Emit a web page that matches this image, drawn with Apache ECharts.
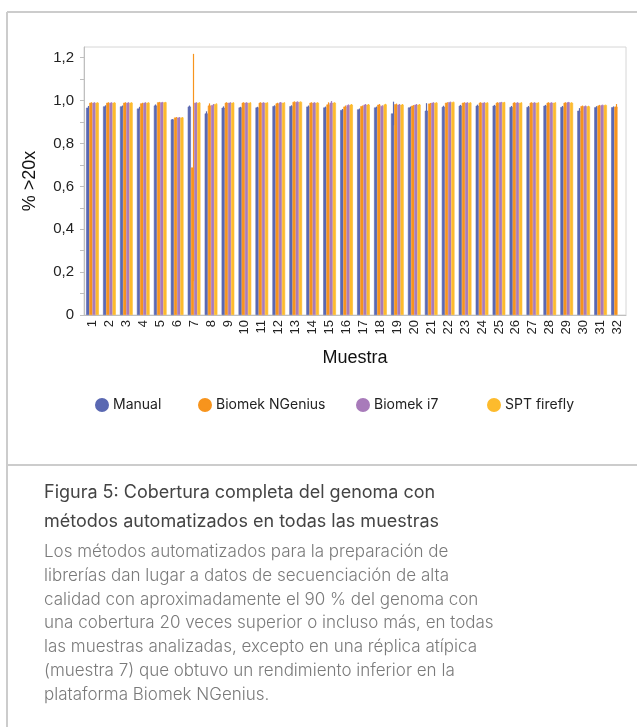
<!doctype html>
<html lang="es">
  <head>
    <meta charset="UTF-8" />
    <title>Cobertura del genoma</title>
    <script src="https://fastly.jsdelivr.net/npm/echarts@6/dist/echarts.min.js"></script>
    <style>
      * { margin: 0; padding: 0; }
      html, body, #chart { width: 637px; height: 727px; overflow: hidden; background: #fff; }
    </style>
  </head>
  <body>
    <div id="chart"></div>
    <script>
      // muestras 1..32
      const samples = Array.from({ length: 32 }, (_, i) => String(i + 1));
      const seriesNames = ['Manual', 'Biomek NGenius', 'Biomek i7', 'SPT firefly'];
      const colors = ['#5a68b2', '#f7941d', '#a87bba', '#fdbb2d'];

      const manual = [0.967, 0.973, 0.973, 0.963, 0.977, 0.912, 0.972, 0.940, 0.967, 0.968,
        0.968, 0.974, 0.974, 0.972, 0.968, 0.956, 0.959, 0.968, 0.940, 0.968,
        0.953, 0.971, 0.976, 0.976, 0.976, 0.970, 0.970, 0.976, 0.970, 0.953, 0.969, 0.969];
      const ngenius = [0.99, 0.99, 0.99, 0.987, 0.992, 0.921, 0.688, 0.977, 0.99, 0.99,
        0.99, 0.987, 0.994, 0.99, 0.982, 0.972, 0.974, 0.981, 0.983, 0.976,
        0.986, 0.99, 0.99, 0.99, 0.99, 0.99, 0.99, 0.99, 0.99, 0.974, 0.977, 0.972];
      const i7 = [0.99, 0.99, 0.99, 0.99, 0.992, 0.921, 0.99, 0.979, 0.99, 0.99,
        0.99, 0.991, 0.994, 0.99, 0.99, 0.979, 0.981, 0.975, 0.981, 0.981,
        0.99, 0.993, 0.99, 0.99, 0.992, 0.99, 0.99, 0.99, 0.992, 0.974, 0.979, null];
      const firefly = [0.99, 0.99, 0.99, 0.99, 0.992, 0.921, 0.99, 0.984, 0.99, 0.99,
        0.99, 0.99, 0.994, 0.99, 0.99, 0.981, 0.981, 0.982, 0.981, 0.981,
        0.99, 0.993, 0.99, 0.99, 0.992, 0.99, 0.99, 0.99, 0.99, 0.973, 0.979, null];

      // desviaciones (barras de error)
      const manualErr = [0.008, 0.005, 0.004, 0.008, 0.005, 0.002, 0.005, 0.01, 0.006, 0.003,
        0.003, 0.004, 0.004, 0.005, 0.004, 0.005, 0.004, 0.004, 0.055, 0.004,
        0.035, 0.005, 0.004, 0.005, 0.004, 0.005, 0.005, 0.004, 0.005, 0.012, 0.005, 0.004];
      const ngeniusErr = [0.002, 0.002, 0.002, 0.003, 0.002, 0.002, 0.53, 0.01, 0.002, 0.002,
        0.002, 0.003, 0.002, 0.002, 0.01, 0.005, 0.003, 0.003, 0.003, 0.003,
        0.003, 0.002, 0.002, 0.002, 0.002, 0.002, 0.002, 0.002, 0.002, 0.003, 0.003, 0.012];
      const i7Err = [0.002, 0.002, 0.002, 0.002, 0.002, 0.002, 0.002, 0.005, 0.002, 0.002,
        0.002, 0.002, 0.002, 0.002, 0.008, 0.003, 0.003, 0.003, 0.003, 0.003,
        0.002, 0.002, 0.002, 0.002, 0.002, 0.002, 0.002, 0.002, 0.002, 0.003, 0.002, null];
      const fireflyErr = [0.002, 0.002, 0.002, 0.002, 0.002, 0.002, 0.002, 0.003, 0.002, 0.002,
        0.002, 0.002, 0.002, 0.002, 0.002, 0.003, 0.003, 0.003, 0.003, 0.003,
        0.002, 0.002, 0.002, 0.002, 0.002, 0.002, 0.002, 0.002, 0.002, 0.003, 0.002, null];

      const yTicks = [0, 0.2, 0.4, 0.6, 0.8, 1.0, 1.2];

      const heading = 'Figura 5: Cobertura completa del genoma con\nmétodos automatizados en todas las muestras';
      const body = [
        'Los métodos automatizados para la preparación de',
        'librerías dan lugar a datos de secuenciación de alta',
        'calidad con aproximadamente el 90 % del genoma con',
        'una cobertura 20 veces superior o incluso más, en todas',
        'las muestras analizadas, excepto en una réplica atípica',
        '(muestra 7) que obtuvo un rendimiento inferior en la',
        'plataforma Biomek NGenius.'
      ].join('\n');

      const values = [manual, ngenius, i7, firefly];
      const errors = [manualErr, ngeniusErr, i7Err, fireflyErr];
      const catGap = 0.25;

      const barSeries = seriesNames.map((name, k) => ({
        name: name,
        type: 'bar',
        data: values[k],
        itemStyle: { color: colors[k], borderColor: colors[k], borderWidth: 0.6 },
        barGap: 0,
        barCategoryGap: catGap * 100 + '%',
        animation: false
      }));

      const errSeries = seriesNames.map((name, k) => ({
        type: 'custom',
        name: name + ' err',
        data: values[k].map((v, i) => v == null ? [i, null, null] : [i, v - errors[k][i], v + errors[k][i]]),
        encode: { x: 0, y: [1, 2] },
        silent: true,
        animation: false,
        z: 3,
        renderItem: function (params, api) {
          if (api.value(1) == null || isNaN(api.value(1))) return null;
          const band = api.size([1, 0])[0];
          const barW = band * (1 - catGap) / 4;
          const off = (k - 1.5) * barW;
          const lo = api.coord([api.value(0), api.value(1)]);
          const hi = api.coord([api.value(0), api.value(2)]);
          const x = Math.round(lo[0] + off) + 0.5;
          return {
            type: 'line',
            shape: { x1: x, y1: lo[1], x2: x, y2: hi[1] },
            style: { stroke: colors[k], lineWidth: 1.2 }
          };
        }
      }));

      const legendLefts = [90, 193, 351, 482];
      const legends = seriesNames.map((name, k) => ({
        data: [name],
        left: legendLefts[k],
        top: 393,
        icon: 'circle',
        itemWidth: 12,
        itemHeight: 12,
        selectedMode: false,
        textStyle: { fontFamily: 'Inter', fontSize: 14, color: '#222' }
      }));

      const chart = echarts.init(document.getElementById('chart'), null, { renderer: 'canvas' });
      chart.setOption({
        animation: false,
        grid: {
          left: 84, right: 11, top: 47, bottom: 412,
          show: true, borderColor: '#d6d6d6', borderWidth: 1, backgroundColor: 'transparent'
        },
        legend: legends,
        xAxis: {
          type: 'category',
          data: samples,
          name: 'Muestra',
          nameLocation: 'middle',
          nameGap: 34,
          nameTextStyle: { fontFamily: 'Liberation Sans', fontSize: 18, color: '#111' },
          axisLine: { lineStyle: { color: '#bfbfbf' } },
          axisTick: { show: false },
          axisLabel: {
            rotate: 90, interval: 0, margin: 5,
            fontFamily: 'Liberation Sans', fontSize: 13, color: '#222'
          }
        },
        yAxis: {
          type: 'value',
          min: 0, max: 1.25, interval: 0.1,
          name: '% >20x',
          nameLocation: 'middle',
          nameGap: 45,
          nameTextStyle: { fontFamily: 'Liberation Sans', fontSize: 18, color: '#111' },
          splitLine: { show: false },
          axisLine: { show: true, lineStyle: { color: '#bfbfbf' } },
          axisTick: { show: true, length: 4, lineStyle: { color: '#bfbfbf' } },
          axisLabel: {
            margin: 10,
            fontFamily: 'Liberation Sans', fontSize: 15, color: '#222',
            showMaxLabel: false,
            formatter: function (v) {
              const t = yTicks.find(a => Math.abs(a - v) < 1e-6);
              if (t === undefined) return '';
              return t === 0 ? '0' : t.toFixed(1).replace('.', ',');
            }
          }
        },
        series: barSeries.concat(errSeries),
        graphic: [
          { type: 'line', shape: { x1: 7, y1: 12, x2: 637, y2: 12 }, style: { stroke: '#cccccc', lineWidth: 2 } },
          { type: 'line', shape: { x1: 7, y1: 12, x2: 7, y2: 727 }, style: { stroke: '#cccccc', lineWidth: 2 } },
          { type: 'line', shape: { x1: 7, y1: 465, x2: 637, y2: 465 }, style: { stroke: '#cccccc', lineWidth: 2 } },
          {
            type: 'text', left: 44, top: 478,
            style: { text: heading, fontFamily: 'Inter', fontSize: 18, lineHeight: 29, fill: '#444' }
          },
          {
            type: 'text', left: 44, top: 540,
            style: { text: body, fontFamily: 'Inter', fontSize: 17, fontWeight: 300, lineHeight: 23.8, fill: '#7a7a7a' }
          }
        ]
      });
    </script>
  </body>
</html>
